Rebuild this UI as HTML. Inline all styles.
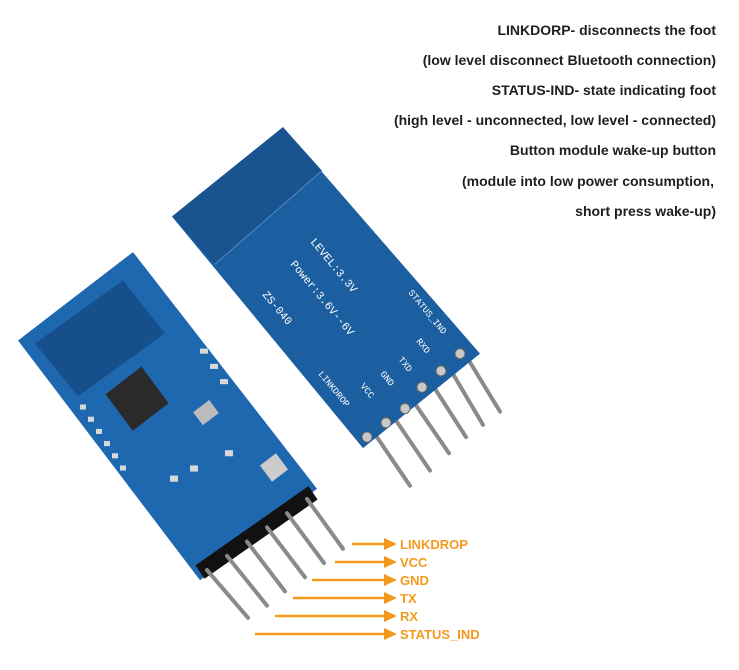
<!DOCTYPE html>
<html><head><meta charset="utf-8"><style>
html,body{margin:0;padding:0;background:#fff;}
svg{display:block;font-family:"Liberation Sans",sans-serif;}
</style></head><body>
<svg width="739" height="670" viewBox="0 0 739 670" xmlns="http://www.w3.org/2000/svg">
<rect width="739" height="670" fill="#fff"/>
<g font-weight="bold" font-size="14" fill="#1e1e1e" text-anchor="end">
<text x="716" y="35">LINKDORP- disconnects the foot</text>
<text x="716" y="65">(low level disconnect Bluetooth connection)</text>
<text x="716" y="95">STATUS-IND- state indicating foot</text>
<text x="716" y="125">(high level - unconnected, low level - connected)</text>
<text x="716" y="155">Button module wake-up button</text>
<text x="714" y="186">(module into low power consumption,</text>
<text x="716" y="216">short press wake-up)</text>
</g>
<g transform="translate(0,120) scale(1,1.016) translate(0,-120)">
<!-- right board pins -->
<g stroke="#8a8a8a" stroke-width="4" stroke-linecap="round">
<line x1="372" y1="425" x2="410" y2="480"/>
<line x1="392" y1="410" x2="430" y2="465"/>
<line x1="412" y1="395" x2="449" y2="448"/>
<line x1="432" y1="380" x2="466" y2="432"/>
<line x1="450" y1="365" x2="483" y2="420"/>
<line x1="466" y1="352" x2="500" y2="407"/>
</g>
<!-- right board -->
<polygon points="172,215 283,127 480,350 363,443" fill="#1c5fa0"/>
<polygon points="172,215 283,127 322,170 215,262" fill="#1a5490"/>
<line x1="215" y1="262" x2="322" y2="170" stroke="#4a8ac8" stroke-width="1"/>
<g fill="#fff" font-size="11" font-family="Liberation Mono,monospace">
<text transform="translate(310,240) rotate(50)">LEVEL:3.3V</text>
<text transform="translate(290,262) rotate(50)">Power:3.6V--6V</text>
<text transform="translate(262,292) rotate(50)">ZS-040</text>
<text transform="translate(318,370) rotate(50)" font-size="9">LINKDROP</text>
<text transform="translate(360,382) rotate(50)" font-size="9">VCC</text>
<text transform="translate(380,370) rotate(50)" font-size="9">GND</text>
<text transform="translate(398,356) rotate(50)" font-size="9">TXD</text>
<text transform="translate(416,338) rotate(50)" font-size="9">RXD</text>
<text transform="translate(408,290) rotate(50)" font-size="9">STATUS_IND</text>
</g>
<g fill="#c8c8c8" stroke="#666" stroke-width="1">
<circle cx="367" cy="432" r="5"/><circle cx="386" cy="418" r="5"/><circle cx="405" cy="404" r="5"/>
<circle cx="422" cy="383" r="5"/><circle cx="441" cy="367" r="5"/><circle cx="460" cy="350" r="5"/>
</g>
<!-- left board -->
<polygon points="18,337 133,250 317,483 200,573" fill="#1e68b0"/>
<polygon points="35,340 123,278 165,330 78,392" fill="#164f8c"/>
<rect x="115" y="372" width="45" height="45" fill="#2a2a2a" transform="rotate(-37 137 395)"/>
<rect x="196" y="400" width="20" height="16" fill="#bbb" transform="rotate(-37 206 408)"/>
<rect x="264" y="452" width="20" height="20" fill="#ccc" transform="rotate(-37 274 462)"/>
<g fill="#d8d8d8">
<rect x="80" y="400" width="6" height="5"/><rect x="88" y="412" width="6" height="5"/><rect x="96" y="424" width="6" height="5"/>
<rect x="104" y="436" width="6" height="5"/><rect x="112" y="448" width="6" height="5"/><rect x="120" y="460" width="6" height="5"/>
<rect x="200" y="345" width="8" height="5"/><rect x="210" y="360" width="8" height="5"/><rect x="220" y="375" width="8" height="5"/>
<rect x="170" y="470" width="8" height="6"/><rect x="190" y="460" width="8" height="6"/><rect x="225" y="445" width="8" height="6"/>
</g>
<line x1="200" y1="565" x2="313" y2="487" stroke="#111" stroke-width="16"/>
<g stroke="#8a8a8a" stroke-width="4" stroke-linecap="round">
<line x1="207" y1="563" x2="248" y2="610"/>
<line x1="227" y1="549" x2="267" y2="598"/>
<line x1="247" y1="535" x2="285" y2="584"/>
<line x1="267" y1="521" x2="305" y2="570"/>
<line x1="287" y1="507" x2="324" y2="556"/>
<line x1="307" y1="493" x2="343" y2="542"/>
</g>
</g>
<!-- orange arrows -->
<g stroke="#f39a1e" stroke-width="2.5">
<line x1="352" y1="544" x2="390" y2="544"/>
<line x1="335" y1="562" x2="390" y2="562"/>
<line x1="312" y1="580" x2="390" y2="580"/>
<line x1="293" y1="598" x2="390" y2="598"/>
<line x1="275" y1="616" x2="390" y2="616"/>
<line x1="255" y1="634" x2="390" y2="634"/>
</g>
<g fill="#f39a1e">
<polygon points="384,538 397,544 384,550"/><polygon points="384,556 397,562 384,568"/>
<polygon points="384,574 397,580 384,586"/><polygon points="384,592 397,598 384,604"/>
<polygon points="384,610 397,616 384,622"/><polygon points="384,628 397,634 384,640"/>
</g>
<g fill="#f39a1e" font-weight="bold" font-size="13">
<text x="400" y="549">LINKDROP</text>
<text x="400" y="567">VCC</text>
<text x="400" y="585">GND</text>
<text x="400" y="603">TX</text>
<text x="400" y="621">RX</text>
<text x="400" y="639">STATUS_IND</text>
</g>
</svg>
</body></html>
